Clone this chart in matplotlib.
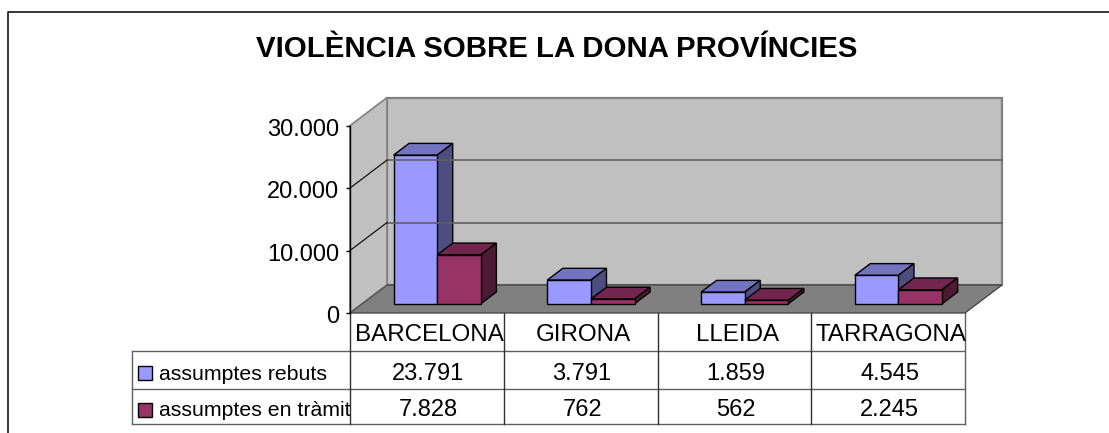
import matplotlib
matplotlib.use('Agg')
import matplotlib.pyplot as plt
from matplotlib.patches import Polygon
from matplotlib.transforms import ScaledTranslation

plt.rcParams['font.family'] = ['Liberation Sans', 'DejaVu Sans']

categorias = ['BARCELONA', 'GIRONA', 'LLEIDA', 'TARRAGONA']
series = ['assumptes rebuts', 'assumptes en tràmit']
rebuts = [23791, 3791, 1859, 4545]
tramit = [7828, 762, 562, 2245]
ticks = [0, 10000, 20000, 30000]
tick_labels = ['0', '10.000', '20.000', '30.000']
etiq_rebuts = ['23.791', '3.791', '1.859', '4.545']
etiq_tramit = ['7.828', '762', '562', '2.245']

W, H = 1109, 433
fig = plt.figure(figsize=(W / 100, H / 100), dpi=100, facecolor='white')

# capa de fondo en pixeles para marco, titulo y tabla
page = fig.add_axes([0, 0, 1, 1])
page.set_xlim(0, W)
page.set_ylim(H, 0)
page.axis('off')

# ejes del grafico: plano frontal
x0, x1, y0, y1 = 350, 965, 313, 125.6
ax = fig.add_axes([x0 / W, 1 - y0 / H, (x1 - x0) / W, (y0 - y1) / H])
ax.set_xlim(0, 4)
ax.set_ylim(0, 30000)
ax.patch.set_alpha(0)
for s in ax.spines.values():
    s.set_visible(False)
ax.set_xticks([])
ax.set_yticks(ticks)
ax.set_yticklabels(tick_labels, fontsize=17, color='black')
ax.tick_params(axis='y', length=3, width=1, pad=5, color='black')
for lbl in ax.get_yticklabels():
    lbl.set_transform(lbl.get_transform() + ScaledTranslation(0, -1.5 / 100, fig.dpi_scale_trans))

# profundidad oblicua en unidades de datos
DX = 37 / ((x1 - x0) / 4)
DY = 28 / ((y0 - y1) / 30000)


def proj(x, y, d):
    return (x + d * DX, y + d * DY)


def cara(puntos, color, ec='black', lw=1.0):
    ax.add_patch(Polygon(puntos, closed=True, fc=color, ec=ec, lw=lw, clip_on=False, joinstyle='miter'))


# paredes y suelo
ymax = ticks[-1]
cara([proj(0, 0, 1), proj(4, 0, 1), proj(4, ymax, 1), proj(0, ymax, 1)], '#C0C0C0', '#808080', 1.6)
cara([proj(0, 0, 0), proj(0, 0, 1), proj(0, ymax, 1), proj(0, ymax, 0)], '#C0C0C0', '#808080', 1.2)
cara([proj(0, 0, 0), proj(4, 0, 0), proj(4, 0, 1), proj(0, 0, 1)], '#808080', '#404040', 0.9)

for t in ticks[1:-1]:
    ax.plot(*zip(proj(0, t, 1), proj(4, t, 1)), color='#606060', lw=1.2, clip_on=False)
for t in ticks[:-1]:
    ax.plot(*zip(proj(0, t, 0), proj(0, t, 1)), color='black' if t else '#606060', lw=0.8, clip_on=False)
ax.plot([0, 0], [0, ymax], color='black', lw=1.0, clip_on=False)


# barras
def barra(x, w, v, frente, lado, tope):
    d0, d1 = 0.33, 0.75
    cara([proj(x, v, d0), proj(x + w, v, d0), proj(x + w, v, d1), proj(x, v, d1)], tope)
    cara([proj(x + w, 0, d0), proj(x + w, 0, d1), proj(x + w, v, d1), proj(x + w, v, d0)], lado)
    cara([proj(x, 0, d0), proj(x + w, 0, d0), proj(x + w, v, d0), proj(x, v, d0)], frente)


ancho = 0.284
for i in range(len(categorias)):
    barra(i + 0.2036, ancho, rebuts[i], '#9999FF', '#4D4D80', '#7373BF')
    barra(i + 0.2036 + ancho, ancho, tramit[i], '#993366', '#4D1A33', '#73264D')

# marco
page.plot([7.5, 7.5, W], [H, 11.5, 11.5], color='black', lw=1.1)
page.text(556.5, 57, 'VIOLÈNCIA SOBRE LA DONA PROVÍNCIES', fontsize=21.2, fontweight='bold',
          ha='center', va='baseline')

# tabla de datos
filas = [313, 351, 389, 423.7]
col_w = (x1 - x0) / 4
for j, yy in enumerate(filas[1:]):
    page.plot([131.5, x1], [yy, yy], color='#606060', lw=1.0)
page.plot([131.5, 131.5], [filas[1], filas[3]], color='#606060', lw=1.0)
for i in range(5):
    xx = x0 + i * col_w
    page.plot([xx, xx], [filas[0], filas[3]], color='#303030' if i < 4 else '#606060', lw=1.0)

for i in range(4):
    xc = x0 + (i + 0.5) * col_w
    page.text(xc + 3, 341, categorias[i], fontsize=17.35, ha='center', va='baseline')
    page.text(xc + 1.5, 380.5, etiq_rebuts[i], fontsize=17, ha='center', va='baseline')
    page.text(xc + 1.5, 416.5, etiq_tramit[i], fontsize=17, ha='center', va='baseline')

for nombre, yy, base, color in zip(series, [373, 409.5], [380, 416], ['#9999FF', '#993366']):
    page.add_patch(Polygon([(138, yy - 7), (152, yy - 7), (152, yy + 7), (138, yy + 7)], closed=True,
                           fc=color, ec='black', lw=1.0))
    page.text(159, base, nombre, fontsize=15.3, ha='left', va='baseline')

fig.savefig('out.png', dpi=100)
